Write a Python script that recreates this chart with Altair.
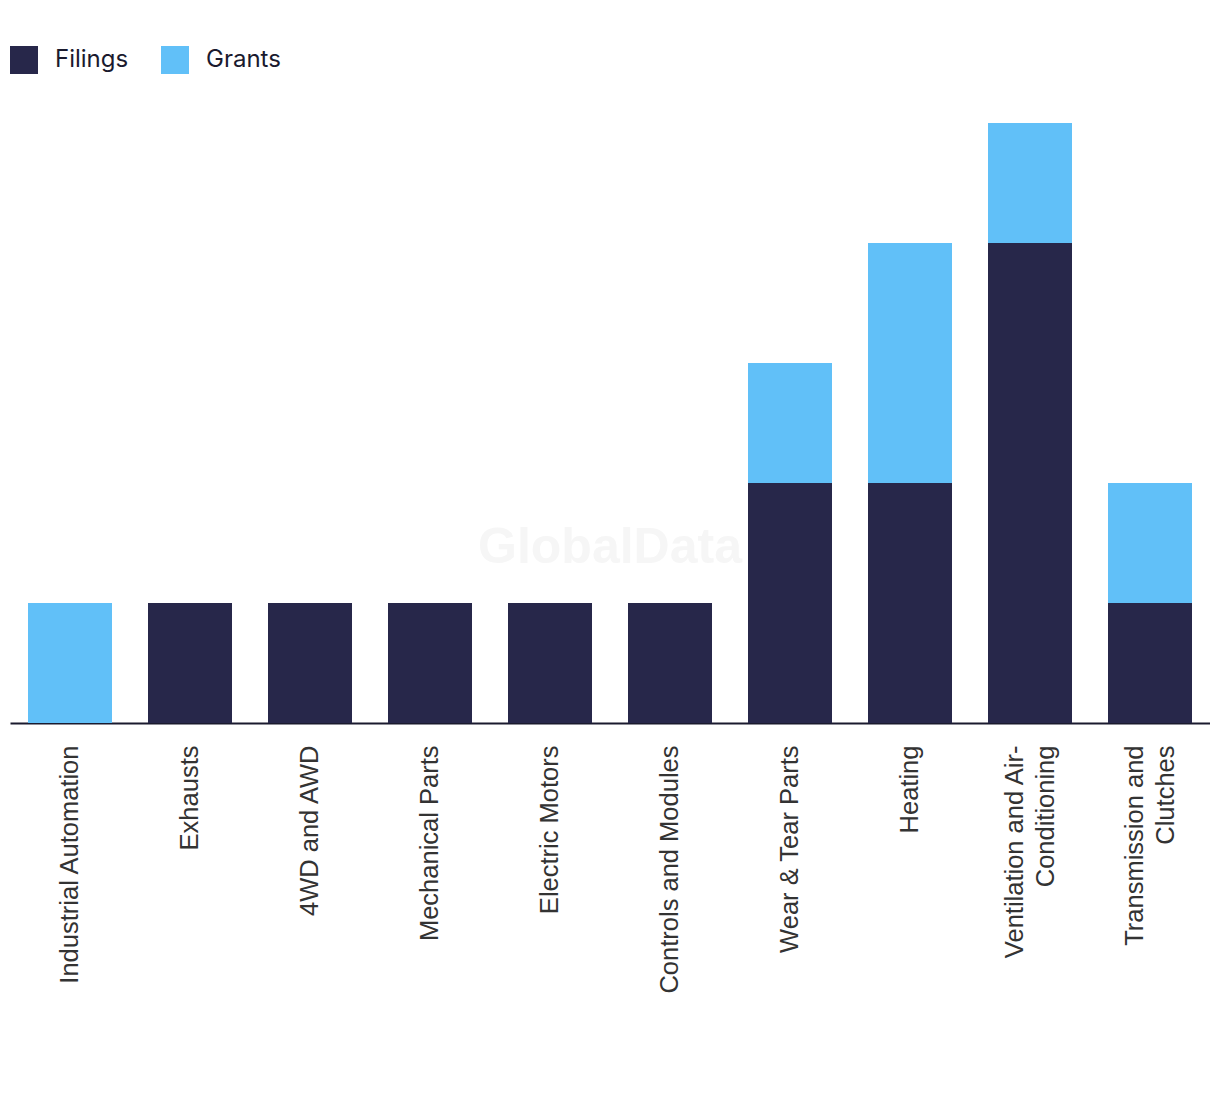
import altair as alt
import pandas as pd

categories = [
    "Industrial Automation",
    "Exhausts",
    "4WD and AWD",
    "Mechanical Parts",
    "Electric Motors",
    "Controls and Modules",
    "Wear & Tear Parts",
    "Heating",
    "Ventilation and Air-\nConditioning",
    "Transmission and\nClutches",
]
filings = [0, 1, 1, 1, 1, 1, 2, 2, 4, 1]
grants = [1, 0, 0, 0, 0, 0, 1, 2, 1, 1]
series = ["Filings", "Grants"]
colors = ["#27274a", "#61c0f8"]

rows = []
for c, f, g in zip(categories, filings, grants):
    rows.append({"category": c, "series": "Filings", "value": f, "order": 0})
    rows.append({"category": c, "series": "Grants", "value": g, "order": 1})
df = pd.DataFrame(rows)

bars = alt.Chart(df).mark_bar().encode(
    x=alt.X(
        "category:N",
        sort=categories,
        title=None,
        scale=alt.Scale(paddingInner=0.3, paddingOuter=0.15),
        axis=alt.Axis(
            labelAngle=-90,
            labelExpr="split(datum.label, '\\n')",
            labelFont="Liberation Sans",
            labelFontSize=25.5,
            labelLineHeight=31,
            labelColor="#333333",
            labelPadding=22,
            labelLimit=400,
            labelOffset={"expr": "indexof(datum.value, '\\n') >= 0 ? -15 : 0"},
            ticks=False,
            domainColor="#1a1a2e",
            domainWidth=2,
        ),
    ),
    y=alt.Y("value:Q", stack="zero", title=None, axis=None,
            scale=alt.Scale(domain=[0, 5], nice=False)),
    color=alt.Color(
        "series:N",
        scale=alt.Scale(domain=series, range=colors),
        legend=alt.Legend(
            title=None,
            orient="none",
            legendX=0,
            legendY=-77,
            direction="horizontal",
            symbolType="square",
            symbolSize=784,
            symbolStrokeWidth=0,
            symbolOpacity=1,
            labelFont="Inter",
            labelFontSize=24,
            labelColor="#1a1a2e",
            labelOffset=17,
            columnPadding=32,
            padding=0,
        ),
    ),
    order=alt.Order("order:Q"),
)

watermark = alt.Chart(pd.DataFrame({"t": ["GlobalData"]})).mark_text(
    font="Liberation Sans", fontWeight="bold", fontSize=50,
    color="#f6f6f6", align="center", baseline="middle",
).encode(text="t:N", x=alt.value(600), y=alt.value(425))

chart = alt.layer(watermark, bars).properties(
    width=1200,
    height=600,
    autosize=alt.AutoSizeParams(type="none"),
    padding={"left": 2, "top": 115, "right": 0, "bottom": 320},
).configure_view(stroke=None)

chart.save("out.html", embed_options={"renderer": "svg", "actions": False})
